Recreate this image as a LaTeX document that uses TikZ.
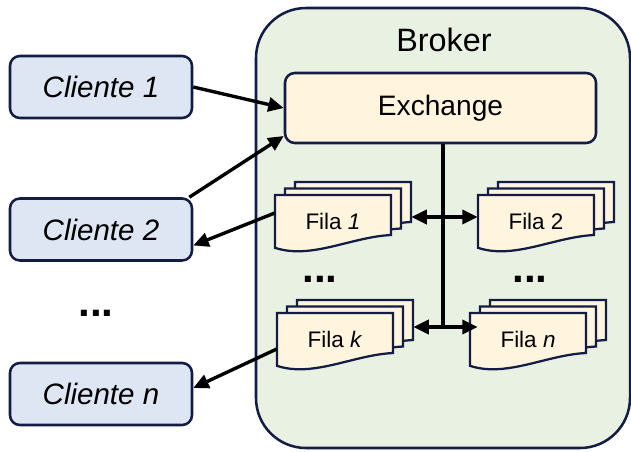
\documentclass[tikz,border=0pt]{standalone}
\usepackage{fontspec}
\setmainfont{Liberation Sans}
\usepackage{tikz}
\usetikzlibrary{arrows.meta,positioning,calc}
\definecolor{BrkNavy}{RGB}{18,28,68}
\definecolor{BrkGreen}{RGB}{233,241,226}
\definecolor{CliBlue}{RGB}{222,230,244}
\definecolor{QueCream}{RGB}{255,244,222}

\begin{document}
\begin{tikzpicture}[
  cli/.style={draw=BrkNavy,fill=CliBlue,line width=1.8pt,rounded corners=7pt,
              minimum width=4.55cm,minimum height=1.55cm,
              font=\fontsize{21}{25}\selectfont\itshape},
  brk/.style={draw=BrkNavy,fill=BrkGreen,line width=1.8pt,rounded corners=1.25cm,
              minimum width=9.35cm,minimum height=11cm},
  exch/.style={draw=BrkNavy,fill=QueCream,line width=1.8pt,rounded corners=7pt,
               minimum width=7.775cm,minimum height=1.75cm,
               font=\fontsize{20}{24}\selectfont},
  doc/.style={draw=BrkNavy,fill=QueCream,line width=1.6pt},
  filatxt/.style={minimum width=2.9cm,minimum height=1.3cm,inner sep=0pt,
                  font=\fontsize{16}{19}\selectfont},
  dots/.style={font=\fontsize{30}{34}\selectfont\bfseries},
  arr/.style={-{Triangle[length=11pt,width=10pt]},line width=2.4pt},
  twoway/.style={{Triangle[length=11pt,width=10pt]}-{Triangle[length=11pt,width=10pt]},line width=2.4pt},
]
\useasboundingbox (0,0) rectangle (15.775,11.275);
\node[brk] (broker) at (11.075,5.575) {};
\node[font=\fontsize{23}{27}\selectfont] (brokerlbl) at (11.1,10.275) {Broker};
\node[exch] (ex) at (11.0125,8.575) {Exchange};
\node[cli] (c1) at (2.525,9.1) {Cliente 1};
\node[cli] (c2) at (2.525,5.5375) {Cliente 2};
\node[cli] (cn) at (2.525,1.425) {Cliente n};
\node[dots] (cdots) at (2.4,3.45) {...};
\foreach \nm/\px/\py/\txt in {f1/6.875/6.4/{Fila \textit{1}},f2/11.95/6.4/{Fila 2},
                             fk/6.925/3.45/{Fila \textit{k}},fn/11.75/3.45/{Fila \textit{n}}} {
  \foreach \k in {2,1,0}
    \draw[doc] ({\px+\k*0.25},{\py+\k*0.1625}) -- ++(2.9,0) -- ++(0,-1.0)
      .. controls +(-1.0,-0.05) and +(0.9,-0.3) .. ++(-2.9,-0.32) -- cycle;
  \node[filatxt] (\nm) at ({\px+1.45},{\py-0.65}) {\txt};
}
\node[dots] (qdots1) at (8.0,4.3) {...};
\node[dots] (qdots2) at (13.25,4.3) {...};
\coordinate (j1) at (11.075,5.85);
\coordinate (j2) at (11.075,3.1);
\draw[line width=2.4pt] (ex.south -| j2) -- (j2);
\draw[twoway] ([xshift=0.5cm]f1.east |- j1) -- (f2.west |- j1);
\draw[twoway] ([xshift=0.5cm]fk.east |- j2) -- ([xshift=0.2cm]fn.west |- j2);
\draw[arr] (c1.east) -- (ex.west);
\draw[arr] ([xshift=-0.1cm]c2.north east) -- ([yshift=-0.7cm]ex.west);
\draw[arr] ([yshift=0.2cm]f1.west) -- ([yshift=-0.4cm]c2.east);
\draw[arr] ([yshift=-0.25cm]fk.west) -- ([yshift=0.15cm]cn.east);
\end{tikzpicture}
\end{document}
